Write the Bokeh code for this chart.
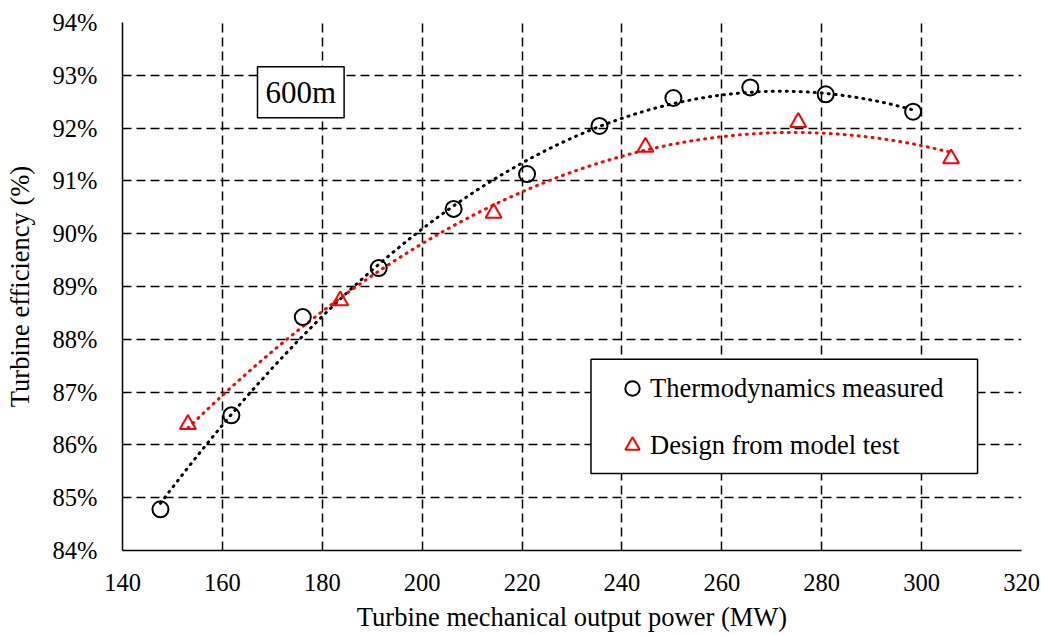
import numpy as np
from bokeh.plotting import figure
from bokeh.models import (FixedTicker, Legend, LegendItem, Label, BoxAnnotation)
from bokeh.embed import file_html
from bokeh.resources import INLINE

# ---- data ----
meas_x = [147.6, 161.8, 176.1, 191.3, 206.3, 221.0, 235.5, 250.3, 265.7, 280.8, 298.3]
meas_y = [84.78, 86.56, 88.42, 89.35, 90.47, 91.13, 92.04, 92.57, 92.77, 92.64, 92.31]
design_x = [153.1, 183.6, 214.3, 244.7, 275.3, 305.9]
design_y = [86.39, 88.73, 90.39, 91.64, 92.11, 91.42]

x_ticks = [140, 160, 180, 200, 220, 240, 260, 280, 300, 320]
y_ticks = [84, 85, 86, 87, 88, 89, 90, 91, 92, 93, 94]
y_tick_labels = ["84%", "85%", "86%", "87%", "88%", "89%", "90%", "91%", "92%", "93%", "94%"]

series_names = ["Thermodynamics measured", "Design from model test"]
annotation_text = "600m"
x_title = "Turbine mechanical output power (MW)"
y_title = "Turbine efficiency (%)"

FONT = "Liberation Serif"
RED = "#FF0000"

p = figure(width=1041, height=635, x_range=(140, 320), y_range=(84, 94),
           output_backend="svg", toolbar_location=None,
           min_border_left=122, min_border_right=20, min_border_top=22, min_border_bottom=85)
p.outline_line_color = None
p.background_fill_color = "white"

# grid
for g in (p.xgrid, p.ygrid):
    g.grid_line_color = "black"
    g.grid_line_width = 1.5
    g.grid_line_dash = "9 5"
p.xgrid.ticker = FixedTicker(ticks=x_ticks)
p.ygrid.ticker = FixedTicker(ticks=y_ticks)

# axes
p.xaxis.ticker = FixedTicker(ticks=x_ticks)
p.yaxis.ticker = FixedTicker(ticks=y_ticks)
p.yaxis.major_label_overrides = {t: l for t, l in zip(y_ticks, y_tick_labels)}
for ax in (p.xaxis, p.yaxis):
    ax.axis_line_color = "black"
    ax.axis_line_width = 1.5
    ax.major_tick_out = 0
    ax.major_tick_in = 0
    ax.minor_tick_out = 0
    ax.minor_tick_in = 0
    ax.major_label_text_font = FONT
    ax.major_label_text_font_size = "24.5px"
    ax.major_label_text_color = "black"
    ax.axis_label_text_font = FONT
    ax.axis_label_text_font_size = "26.5px"
    ax.axis_label_text_font_style = "normal"
    ax.axis_label_text_color = "black"
p.xaxis.axis_label = x_title
p.yaxis.axis_label = y_title
p.xaxis.major_label_standoff = 23
p.xaxis.axis_label_standoff = 8
p.yaxis.major_label_standoff = 25
p.yaxis.axis_label_standoff = 15

# trendlines (2nd-order polynomial fits of each series)
for xs, ys, col in ((meas_x, meas_y, "black"), (design_x, design_y, RED)):
    coef = np.polyfit(xs, ys, 2)
    xx = np.linspace(min(xs), max(xs), 200)
    p.line(xx, np.polyval(coef, xx), line_color=col, line_width=3,
           line_dash="1 6", line_cap="round")

r_meas = p.scatter(meas_x, meas_y, marker="circle", size=16, fill_color=None,
                   line_color="black", line_width=2)
r_design = p.scatter(design_x, design_y, marker="triangle", size=16, fill_color=None,
                     line_color=RED, line_width=2)

# legend frame
box = BoxAnnotation(left=233.8, right=311.2, bottom=85.46, top=87.62,
                    fill_color="white", fill_alpha=1.0,
                    line_color="black", line_alpha=1.0, line_width=1.5)
p.add_layout(box)

legend = Legend(items=[LegendItem(label=series_names[0], renderers=[r_meas]),
                       LegendItem(label=series_names[1], renderers=[r_design])],
                location=(492, 87), glyph_width=36, glyph_height=36,
                label_standoff=0, spacing=21, padding=0, margin=0,
                border_line_color=None, background_fill_alpha=0,
                label_text_font=FONT, label_text_font_size="26.5px",
                label_text_color="black")
p.add_layout(legend, "center")

lab = Label(x=175.7, y=92.68, text=annotation_text, text_align="center",
            text_baseline="middle", text_font=FONT, text_font_size="31px",
            text_color="black", border_line_color="black", border_line_width=1.5,
            background_fill_color="white", padding=8)
p.add_layout(lab)

open("out.html", "w").write(file_html(p, INLINE))
